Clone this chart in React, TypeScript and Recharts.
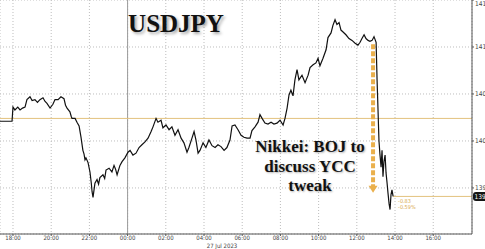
import { LineChart, Line, XAxis, YAxis, CartesianGrid, ReferenceLine } from "recharts";

// hours after 18:00 on 26 Jul (local chart time)
const HOURS = [
  -0.68, -0.05, 0.0, 0.1, 0.25, 0.37, 0.5, 0.63, 0.73, 0.89, 1.0, 1.15, 1.28, 1.41, 1.57, 1.68, 1.78, 1.94,
  2.09, 2.2, 2.36, 2.51, 2.67, 2.75, 2.83, 2.98, 3.05, 3.09, 3.25, 3.35, 3.46, 3.56, 3.66, 3.72, 3.77, 3.82,
  3.93, 4.03, 4.1, 4.14, 4.19, 4.29, 4.4, 4.48, 4.55, 4.71, 4.8, 4.87, 5.03, 5.18, 5.29, 5.37, 5.45, 5.6,
  5.71, 5.86, 6.02, 6.13, 6.28, 6.44, 6.6, 6.75, 6.91, 7.07, 7.23, 7.33, 7.49, 7.59, 7.75, 7.85, 8.01, 8.17,
  8.32, 8.48, 8.64, 8.8, 8.95, 9.11, 9.21, 9.37, 9.48, 9.58, 9.69, 9.79, 9.95, 10.1, 10.26, 10.42, 10.58,
  10.73, 10.89, 11.05, 11.2, 11.36, 11.47, 11.62, 11.78, 11.94, 12.09, 12.25, 12.41, 12.51, 12.67, 12.83,
  12.93, 13.04, 13.19, 13.35, 13.51, 13.66, 13.82, 13.98, 14.14, 14.24, 14.35, 14.45, 14.55, 14.66, 14.76,
  14.87, 14.97, 15.13, 15.29, 15.45, 15.55, 15.71, 15.86, 15.97, 16.07, 16.23, 16.39, 16.49, 16.65, 16.75,
  16.86, 16.96, 17.07, 17.17, 17.28, 17.43, 17.59, 17.75, 17.91, 18.06, 18.17, 18.27, 18.38, 18.48, 18.59,
  18.69, 18.8, 18.9, 19.01, 19.06, 19.11, 19.16, 19.21, 19.27, 19.32, 19.37, 19.42, 19.48, 19.53, 19.58,
  19.63, 19.69, 19.74, 19.79, 19.84, 19.9,
];

const PRICES = [
  140.21, 140.21, 140.36, 140.33, 140.36, 140.33, 140.35, 140.36, 140.44, 140.47, 140.43, 140.44, 140.41, 140.44,
  140.46, 140.42, 140.4, 140.35, 140.39, 140.44, 140.44, 140.47, 140.45, 140.38, 140.35, 140.31, 140.26, 140.24,
  140.24, 140.2, 140.16, 140.04, 139.9, 139.86, 139.8, 139.82, 139.77, 139.67, 139.55, 139.46, 139.4, 139.55,
  139.59, 139.54, 139.61, 139.64, 139.6, 139.69, 139.71, 139.67, 139.74, 139.7, 139.64, 139.74, 139.78, 139.82,
  139.88, 139.9, 139.85, 139.87, 139.93, 139.96, 139.99, 140.03, 140.1, 140.15, 140.24, 140.2, 140.22, 140.14,
  140.17, 140.12, 140.15, 140.06, 140.12, 140.03, 139.98, 139.88, 139.93, 140.03, 140.1, 140.01, 139.87, 139.9,
  139.98, 139.93, 140.01, 139.95, 139.93, 139.96, 139.94, 139.9, 139.93, 140.01, 140.16, 140.17, 140.12, 140.06,
  140.04, 140.03, 140.03, 140.11, 140.15, 140.2, 140.28, 140.24, 140.19, 140.18, 140.2, 140.18, 140.19, 140.22,
  140.17, 140.24, 140.35, 140.49, 140.54, 140.48, 140.65, 140.76, 140.65, 140.7, 140.62, 140.7, 140.78, 140.81,
  140.83, 140.88, 140.8, 140.88, 140.97, 141.1, 141.15, 141.23, 141.29, 141.24, 141.26, 141.18, 141.16, 141.13,
  141.09, 141.07, 141.04, 141.02, 141.05, 141.09, 141.13, 141.09, 141.07, 141.06, 141.07, 141.11, 141.05, 140.65,
  140.33, 140.0, 139.86, 139.72, 139.9, 139.62, 139.78, 139.85, 139.66, 139.56, 139.45, 139.33, 139.27, 139.43,
  139.48, 139.41,
];

const X_TICKS = [0, 2, 4, 6, 8, 10, 12, 14, 16, 18, 20, 22];
const Y_TICKS = [139.5, 140, 140.5, 141, 141.5];
const PREV_CLOSE = 140.24;
const LAST_PRICE = 139.41;
const CHANGE_TEXT = ["-0.83", "-0.59%"];
const ARROW_X = 18.85;
const ARROW_FROM = 141.03;
const ARROW_TO = 139.45;
const NOTE = ["Nikkei: BOJ to", "discuss YCC", "tweak"];

const data = HOURS.map((h, i) => ({ h, price: PRICES[i] }));

const fmtHour = (h: number) => {
  const hh = (18 + h) % 24;
  return `${String(hh).padStart(2, "0")}:00`;
};

// the right scale is cropped in the source image, only the integer part shows
const fmtPrice = (v: number) => String(Math.floor(v));

const SERIF = "'Liberation Serif', 'DejaVu Serif', serif";
const SANS = "'DejaVu Sans Condensed', 'DejaVu Sans', sans-serif";
const GOLD = "#e3c27e";

function LastTag(props: any) {
  const vb = props.viewBox || {};
  const right = vb.x + vb.width;
  const y = vb.y;
  return (
    <g>
      <rect x={right + 1} y={y - 4.5} width={16} height={9} rx={3} fill="#151515" />
      <text x={right + 2.5} y={y + 2.3} fontSize={6.5} fill="#fff" fontFamily={SANS}>
        {fmtPrice(LAST_PRICE)}
      </text>
      <text x={vb.x + 5} y={y + 7} fontSize={5.5} fill="#d9a94a" fontFamily={SANS}>
        {CHANGE_TEXT[0]}
      </text>
      <text x={vb.x + 5} y={y + 13} fontSize={5.5} fill="#d9a94a" fontFamily={SANS}>
        {CHANGE_TEXT[1]}
      </text>
    </g>
  );
}

function DashedArrow(props: any) {
  const { x1, y1, x2, y2 } = props;
  return (
    <g>
      <line x1={x1} y1={y1} x2={x2} y2={y2 - 5} stroke="#eab04c" strokeWidth={4} strokeDasharray="5 2" />
      <polygon points={`${x2 - 4.5},${y2 - 7} ${x2 + 4.5},${y2 - 7} ${x2},${y2}`} fill="#eab04c" />
    </g>
  );
}

export default function App() {
  return (
    <div style={{ position: "fixed", left: 0, top: 0, width: 485, height: 249, background: "#fff", overflow: "hidden" }}>
      <LineChart width={485} height={249} data={data} margin={{ top: 0, right: 0, bottom: 0, left: 0 }}>
        <CartesianGrid stroke="#bdbdbd" strokeDasharray="1 2" vertical horizontal />
        <XAxis
          dataKey="h"
          type="number"
          domain={[-0.68, 24.03]}
          ticks={X_TICKS}
          tickFormatter={fmtHour}
          height={15}
          stroke="#555"
          tickSize={2}
          tickMargin={0}
          tick={{ fontSize: 6, fill: "#444", fontFamily: SANS }}
          label={{ value: "27 Jul 2023", position: "insideBottom", offset: 0, dx: -14, dy: -1, fontSize: 6, fill: "#444", fontFamily: SANS }}
          interval={0}
        />
        <YAxis
          orientation="right"
          type="number"
          domain={[139.01, 141.5]}
          ticks={Y_TICKS}
          tickFormatter={fmtPrice}
          width={13}
          stroke="#555"
          tickSize={2}
          tickMargin={1}
          tick={{ fontSize: 6.5, fill: "#444", fontFamily: SANS }}
          allowDataOverflow
        />
        <ReferenceLine x={6} stroke="#9a9a9a" strokeWidth={1} />
        <ReferenceLine y={PREV_CLOSE} stroke={GOLD} strokeWidth={1} />
        <ReferenceLine
          segment={[{ x: HOURS[HOURS.length - 1], y: LAST_PRICE }, { x: 24.03, y: LAST_PRICE }]}
          stroke={GOLD}
          strokeWidth={1}
          label={<LastTag />}
        />
        <Line
          type="linear"
          dataKey="price"
          stroke="#111"
          strokeWidth={1.2}
          dot={false}
          activeDot={false}
          isAnimationActive={false}
        />
        <ReferenceLine
          segment={[{ x: ARROW_X, y: ARROW_FROM }, { x: ARROW_X, y: ARROW_TO }]}
          shape={<DashedArrow />}
        />
      </LineChart>
      <div
        style={{
          position: "absolute",
          left: 126,
          top: 10,
          width: 100,
          textAlign: "center",
          fontFamily: SERIF,
          fontWeight: 700,
          fontSize: 25,
          color: "#111",
          textShadow: "2px 2px 3px rgba(0,0,0,0.35)",
        }}
      >
        USDJPY
      </div>
      <div
        style={{
          position: "absolute",
          left: 250,
          top: 137,
          width: 120,
          textAlign: "center",
          fontFamily: SERIF,
          fontWeight: 700,
          fontSize: 17,
          lineHeight: "19.5px",
          color: "#111",
          textShadow: "1px 1px 2px rgba(0,0,0,0.3)",
        }}
      >
        {NOTE.map((t) => (
          <div key={t}>{t}</div>
        ))}
      </div>
    </div>
  );
}
